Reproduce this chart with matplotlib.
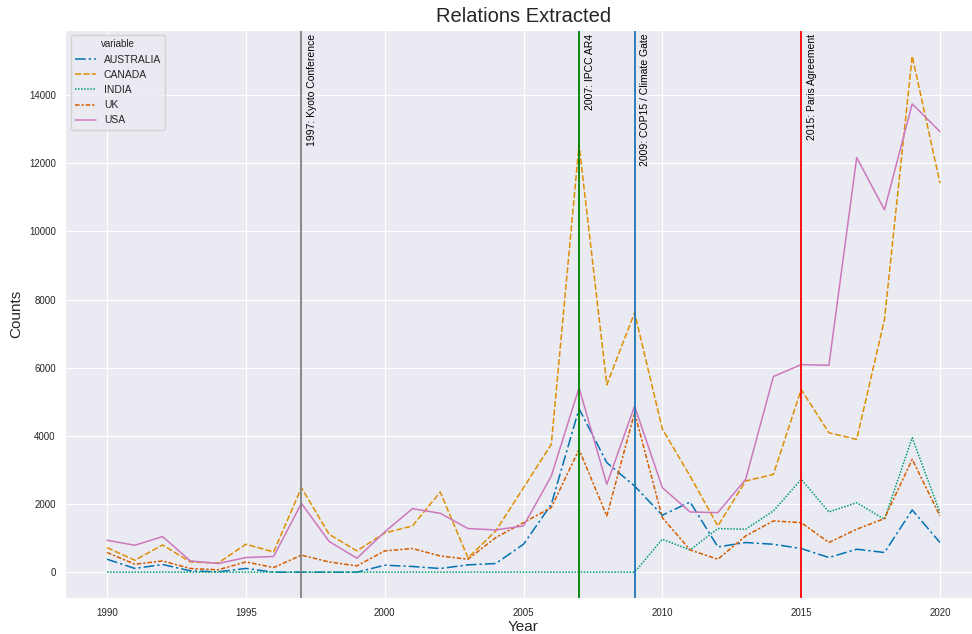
import matplotlib
matplotlib.use("Agg")
import matplotlib.pyplot as plt
import seaborn as sns
import numpy as np

years = list(range(1990, 2021))

australia = [380, 110, 225, 40, 10, 110, 0, 0, 0, 0,
             205, 167, 108, 215, 254, 820, 1990, 4795, 3213, 2528,
             1670, 2060, 742, 870, 820, 694, 430, 674, 577, 1825, 870]
canada = [720, 350, 800, 300, 270, 820, 595, 2480, 1110, 625,
          1150, 1357, 2352, 420, 1210, 2480, 3750, 12540, 5500, 7615,
          4200, 2820, 1357, 2675, 2870, 5360, 4090, 3895, 7410, 15143, 11414]
india = [0, 0, 0, 0, 0, 0, 0, 0, 0, 0,
         0, 0, 0, 0, 0, 0, 0, 0, 0, 0,
         967, 653, 1280, 1260, 1796, 2724, 1767, 2040, 1552, 3945, 1748]
uk = [577, 234, 330, 108, 70, 300, 137, 500, 300, 185,
      625, 694, 477, 380, 1015, 1455, 1895, 3600, 1650, 4680,
      1600, 653, 380, 1063, 1503, 1455, 870, 1260, 1573, 3310, 1650]
usa = [937, 790, 1045, 330, 255, 430, 460, 2020, 900, 410,
       1180, 1865, 1728, 1280, 1240, 1357, 2820, 5410, 2578, 4870,
       2480, 1767, 1748, 2724, 5740, 6090, 6070, 12165, 10633, 13738, 12925]

series_names = ["AUSTRALIA", "CANADA", "INDIA", "UK", "USA"]
series_values = [australia, canada, india, uk, usa]

event_years = [1997, 2007, 2009, 2015]
event_labels = ["1997: Kyoto Conference", "2007: IPCC AR4",
                "2009: COP15 / Climate Gate", "2015: Paris Agreement"]
event_colors = ["grey", "green", "#1f77b4", "red"]

sns.set_style("darkgrid")
plt.rcParams["font.family"] = ["Liberation Sans", "DejaVu Sans"]

pal = sns.color_palette("colorblind")
colors = [pal[0], pal[1], pal[2], pal[3], pal[4]]
styles = [(0, (7, 2, 1.5, 2)), (0, (4, 1.5)), (0, (1, 1)), (0, (3, 1.25, 1.5, 1.25)), "-"]

fig = plt.figure(figsize=(9.72, 6.34), dpi=100)
# axes extends slightly past the right edge of the figure, as in the reference crop
ax = fig.add_axes([0.0673, 0.0568, 0.9426, 0.8959])

for name, vals, c, ls in zip(series_names, series_values, colors, styles):
    ax.plot(years, vals, color=c, linestyle=ls, linewidth=1.1, label=name)

for yr, lab, c in zip(event_years, event_labels, event_colors):
    ax.axvline(yr, color=c, linewidth=1.3)
    ax.text(yr + 0.2, 15800, lab, rotation=90, va="top", ha="left", fontsize=7.5, color="black")

ax.set_xlim(1988.5, 2021.5)
ax.set_ylim(-757, 15907)
ax.set_xticks([1990, 1995, 2000, 2005, 2010, 2015, 2020])
ax.set_yticks([0, 2000, 4000, 6000, 8000, 10000, 12000, 14000])
ax.tick_params(labelsize=7)
ax.set_xlabel("Year", fontsize=11, labelpad=2)
ax.set_ylabel("Counts", fontsize=11)
ax.set_title("Relations Extracted", fontsize=14.5, pad=6)

leg = ax.legend(title="variable", loc="upper left", fontsize=7.5, title_fontsize=7)

fig.savefig("out.png", dpi=100)
